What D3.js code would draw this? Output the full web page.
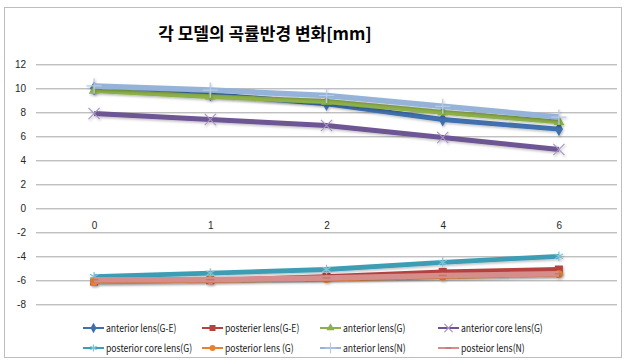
<!DOCTYPE html>
<html>
<head>
<meta charset="utf-8">
<script src="https://cdn.jsdelivr.net/npm/d3@7"></script>
<style>
  html, body { margin: 0; padding: 0; background: #fff; }
  svg { display: block; }
</style>
</head>
<body>
<script>
// Models (x categories)
const categories = ["0", "1", "2", "4", "6"];

// Radius of curvature per series [mm]
const anteriorLensGE   = [10.0, 9.5, 8.7, 7.4, 6.6];
const posteriorLensGE  = [-6.1, -6.0, -5.7, -5.3, -5.1];
const anteriorLensG    = [9.8, 9.3, 8.9, 8.0, 7.2];
const anteriorCoreG    = [7.9, 7.4, 6.9, 5.9, 4.9];
const posteriorCoreG   = [-5.7, -5.4, -5.1, -4.5, -4.0];
const posteriorLensG   = [-6.1, -6.0, -5.9, -5.7, -5.5];
const anteriorLensN    = [10.2, 9.85, 9.4, 8.5, 7.6];
const posteriorLensN   = [-5.95, -5.95, -5.8, -5.6, -5.45];

const seriesNames = [
  "anterior lens(G-E)", "posterier lens(G-E)", "anterior lens(G)", "anterior core lens(G)",
  "posterior core lens(G)", "posterior lens (G)", "anterior lens(N)", "posteior lens(N)"
];
const seriesValues = [
  anteriorLensGE, posteriorLensGE, anteriorLensG, anteriorCoreG,
  posteriorCoreG, posteriorLensG, anteriorLensN, posteriorLensN
];
const yTicks = [12, 10, 8, 6, 4, 2, 0, -2, -4, -6, -8];

const title = "각 모델의 곡률반경 변화[mm]";

const styles = [
  { color: "#3F70AE", marker: "diamond", width: 4.8 },
  { color: "#B5423F", marker: "square",  width: 4.8 },
  { color: "#8DB04A", marker: "triangle", width: 4.8 },
  { color: "#6E5494", marker: "x",       width: 4.8 },
  { color: "#3E9DB5", marker: "star",    width: 4.8 },
  { color: "#E9822F", marker: "circle",  width: 4.8 },
  { color: "#95B3D9", marker: "plus",    width: 5.5 },
  { color: "#D68E8C", marker: "dash",    width: 5.5 }
];

const W = 624, H = 360;
const svg = d3.select("body").append("svg").attr("width", W).attr("height", H);

const defs = svg.append("defs");
const f = defs.append("filter").attr("id", "shadow")
  .attr("x", "-10%").attr("y", "-30%").attr("width", "130%").attr("height", "170%");
f.append("feDropShadow").attr("dx", 1).attr("dy", 1.5).attr("stdDeviation", 1)
  .attr("flood-color", "#000").attr("flood-opacity", 0.25);

// chart frame
svg.append("rect").attr("x", 4.5).attr("y", 7.5).attr("width", 617).attr("height", 350)
  .attr("fill", "#fff").attr("stroke", "#BDBDBD").attr("stroke-width", 1);

svg.append("text").attr("x", 265).attr("y", 40).attr("text-anchor", "middle")
  .attr("font-family", "'Noto Sans CJK KR', sans-serif").attr("font-weight", "bold")
  .attr("font-size", 17).attr("fill", "#000").text(title);

const plot = { left: 36, right: 617, top: 64.3, bottom: 304.3 };

const x = d3.scalePoint().domain(categories).range([plot.left, plot.right]).padding(0.5);
const y = d3.scaleLinear().domain([-8, 12]).range([plot.bottom, plot.top]);

// gridlines + value axis
const yAxis = d3.axisLeft(y).tickValues(yTicks).tickFormat(d => String(d))
  .tickSize(-(plot.right - plot.left)).tickPadding(10);
const gy = svg.append("g").attr("transform", `translate(${plot.left},0)`).call(yAxis);
gy.select(".domain").remove();
gy.selectAll(".tick line").attr("stroke", "#A6A6A6").attr("stroke-width", 1);
gy.selectAll(".tick text").attr("font-family", "'Liberation Sans', Arial, sans-serif")
  .attr("font-size", 10).attr("fill", "#262626");

// category axis, crossing at zero
const xAxis = d3.axisBottom(x).tickSize(0).tickPadding(14);
const gx = svg.append("g").attr("transform", `translate(0,${y(0)})`).call(xAxis);
gx.select(".domain").remove();
gx.selectAll(".tick text").attr("font-family", "'Liberation Sans', Arial, sans-serif")
  .attr("font-size", 10).attr("fill", "#262626");

function drawMarker(g, type, color, cx, cy, s) {
  const m = g.append("g").attr("transform", `translate(${cx},${cy})`);
  switch (type) {
    case "diamond":
      m.append("path").attr("d", d3.symbol(d3.symbolDiamond, s * s * 0.9)()).attr("fill", color);
      break;
    case "square":
      m.append("rect").attr("x", -s / 2).attr("y", -s / 2).attr("width", s).attr("height", s).attr("fill", color);
      break;
    case "triangle":
      m.append("path").attr("d", d3.symbol(d3.symbolTriangle, s * s * 0.8)()).attr("fill", color);
      break;
    case "circle":
      m.append("circle").attr("r", s / 2).attr("fill", color);
      break;
    case "x":
      m.append("path").attr("d", d3.symbol(d3.symbolTimes, s * s * 1.3)())
        .attr("fill", "none").attr("stroke", "#A995C4").attr("stroke-width", 1.2);
      break;
    case "star":
      m.append("path").attr("d", d3.symbol(d3.symbolAsterisk, s * s)())
        .attr("fill", "none").attr("stroke", "#7FC3D6").attr("stroke-width", 1.2);
      break;
    case "plus":
      m.append("path").attr("d", d3.symbol(d3.symbolCross2 || d3.symbolPlus, s * s * 1.2)())
        .attr("fill", "none").attr("stroke", "#B7CBE6").attr("stroke-width", 1.2);
      break;
    case "dash":
      m.append("line").attr("x1", -s / 2).attr("x2", s / 2).attr("stroke", "#C07775").attr("stroke-width", 1.5);
      break;
  }
}

const line = d3.line().x((d, i) => x(categories[i])).y(d => y(d));

seriesValues.forEach((vals, si) => {
  const st = styles[si];
  const g = svg.append("g").attr("filter", "url(#shadow)");
  g.append("path").datum(vals).attr("d", line).attr("fill", "none")
    .attr("stroke", st.color).attr("stroke-width", st.width).attr("stroke-linejoin", "round");
  vals.forEach((v, i) => drawMarker(g, st.marker, st.color, x(categories[i]), y(v), 8));
});

// legend
const legCols = [83, 202, 320, 438];
const legRows = [328, 348];
seriesNames.forEach((name, si) => {
  const st = styles[si];
  const lx = legCols[si % 4], ly = legRows[Math.floor(si / 4)];
  const g = svg.append("g");
  g.append("line").attr("x1", lx).attr("x2", lx + 21).attr("y1", ly).attr("y2", ly)
    .attr("stroke", st.color).attr("stroke-width", 2);
  drawMarker(g, st.marker, st.color, lx + 10.5, ly, 6);
  const t = g.append("text").attr("x", lx + 23).attr("y", ly + 3.5)
    .attr("font-family", "'Noto Sans CJK KR', sans-serif").attr("font-size", 10.5)
    .attr("fill", "#1a1a1a").text(name);
  // narrow the legend lettering to a condensed width
  const w = t.node().getComputedTextLength();
  t.attr("textLength", w * 0.82).attr("lengthAdjust", "spacingAndGlyphs");
});
</script>
</body>
</html>
